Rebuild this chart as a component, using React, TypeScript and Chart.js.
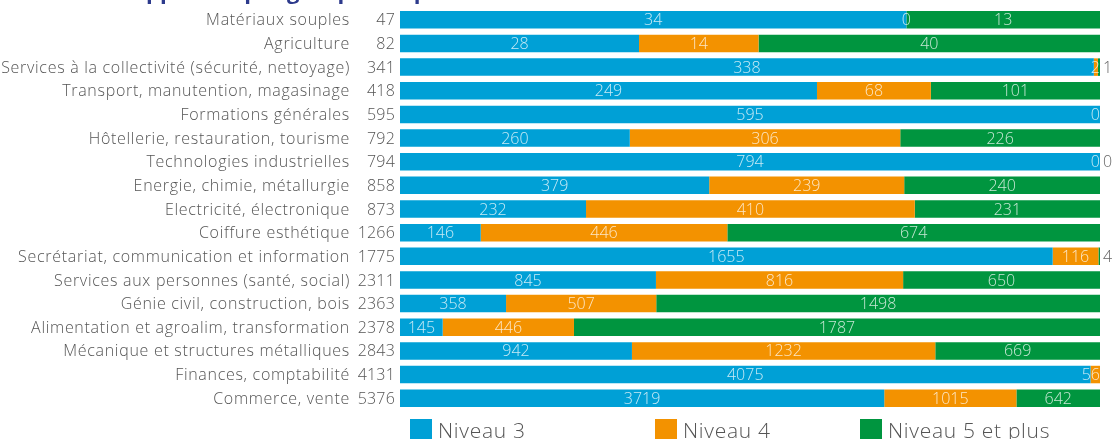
import React, { useEffect, useRef } from "react";
import { Chart, registerables } from "chart.js";

Chart.register(...registerables);

const categories = [
  "Matériaux souples",
  "Agriculture",
  "Services à la collectivité (sécurité, nettoyage)",
  "Transport, manutention, magasinage",
  "Formations générales",
  "Hôtellerie, restauration, tourisme",
  "Technologies industrielles",
  "Energie, chimie, métallurgie",
  "Electricité, électronique",
  "Coiffure esthétique",
  "Secrétariat, communication et information",
  "Services aux personnes (santé, social)",
  "Génie civil, construction, bois",
  "Alimentation et agroalim, transformation",
  "Mécanique et structures métalliques",
  "Finances, comptabilité",
  "Commerce, vente",
];

const totals = [47, 82, 341, 418, 595, 792, 794, 858, 873, 1266, 1775, 2311, 2363, 2378, 2843, 4131, 5376];

const niveau3 = [34, 28, 338, 249, 595, 260, 794, 379, 232, 146, 1655, 845, 358, 145, 942, 4075, 3719];
const niveau4 = [0, 14, 2, 68, 0, 306, 0, 239, 410, 446, 116, 816, 507, 446, 1232, 56, 1015];
const niveau5 = [13, 40, 1, 101, null, 226, 0, 240, 231, 674, 4, 650, 1498, 1787, 669, null, 642];

const seriesNames = ["Niveau 3", "Niveau 4", "Niveau 5 et plus"];
const seriesColors = ["#00A0D6", "#F39200", "#00953F"];
const titleText = "Nombre d'apprentis par groupe de spécialité selon le niveau";

const FONT = "'Open Sans', Lato, sans-serif";
const TEXT_GREY = "#555555";
const legendOffsets = [10, 255, 460];

const titlePlugin = {
  id: "cutTitle",
  beforeDraw(chart: any) {
    const ctx = chart.ctx;
    ctx.save();
    ctx.font = `bold 22px ${FONT}`;
    ctx.fillStyle = "#2D3A8C";
    ctx.textAlign = "left";
    ctx.textBaseline = "alphabetic";
    const lead = ctx.measureText("Nombre d'a").width;
    ctx.fillText(titleText, 146 - lead, -1);
    ctx.restore();
  },
};

const axisLabelsPlugin = {
  id: "axisLabels",
  afterDraw(chart: any) {
    const ctx = chart.ctx;
    const area = chart.chartArea;
    const yScale = chart.scales.y;
    ctx.save();
    ctx.fillStyle = TEXT_GREY;
    ctx.textAlign = "right";
    ctx.textBaseline = "middle";
    categories.forEach((c, i) => {
      const y = yScale.getPixelForValue(i) + 1;
      ctx.font = `300 16px ${FONT}`;
      (ctx as any).letterSpacing = "0.7px";
      ctx.fillText(c, area.left - 50, y);
      (ctx as any).letterSpacing = "0.2px";
      ctx.fillText(String(totals[i]), area.left - 5, y);
    });
    ctx.restore();
  },
};

const valueLabelsPlugin = {
  id: "valueLabels",
  afterDatasetsDraw(chart: any) {
    const ctx = chart.ctx;
    const area = chart.chartArea;
    const n = chart.data.datasets.length;
    ctx.save();
    ctx.font = `300 16px ${FONT}`;
    ctx.textBaseline = "middle";
    chart.data.datasets.forEach((ds: any, di: number) => {
      const meta = chart.getDatasetMeta(di);
      meta.data.forEach((bar: any, i: number) => {
        const raw = ds.counts[i];
        if (raw == null) return;
        const txt = String(raw);
        const w = ctx.measureText(txt).width;
        const { x, y, base } = bar.getProps(["x", "y", "base"], true);
        const segW = Math.abs(x - base);
        if (di === n - 1 && segW < w + 4) {
          ctx.fillStyle = "#666666";
          ctx.textAlign = "left";
          ctx.fillText(txt, x + 3, y + 1);
        } else {
          let cx = (x + base) / 2;
          cx = Math.max(area.left + w / 2, Math.min(area.right - w / 2, cx));
          ctx.fillStyle = "rgba(255,255,255,0.78)";
          ctx.textAlign = "center";
          ctx.fillText(txt, cx, y + 1);
        }
      });
    });
    ctx.restore();
  },
};

const legendPlugin = {
  id: "customLegend",
  afterDraw(chart: any) {
    const ctx = chart.ctx;
    const area = chart.chartArea;
    ctx.save();
    ctx.font = `300 21px ${FONT}`;
    (ctx as any).letterSpacing = "0.7px";
    ctx.textAlign = "left";
    ctx.textBaseline = "middle";
    seriesNames.forEach((name, i) => {
      const bx = area.left + legendOffsets[i];
      const by = area.bottom + 9;
      ctx.fillStyle = seriesColors[i];
      ctx.fillRect(bx, by, 22, 22);
      ctx.fillStyle = TEXT_GREY;
      ctx.fillText(name, bx + 28, by + 13);
    });
    ctx.restore();
  },
};

export default function App() {
  const canvasRef = useRef<HTMLCanvasElement | null>(null);

  useEffect(() => {
    document.body.style.margin = "0";
    const canvas = canvasRef.current;
    if (!canvas) return;
    const series = [niveau3, niveau4, niveau5];
    const datasets = series.map((vals, si) => ({
      label: seriesNames[si],
      counts: vals,
      data: vals.map((v, i) => (v == null ? null : (v / totals[i]) * 100)),
      backgroundColor: seriesColors[si],
      borderWidth: 0,
      barPercentage: 0.74,
      categoryPercentage: 1,
    }));
    const chart = new Chart(canvas, {
      type: "bar",
      data: { labels: categories, datasets: datasets as any },
      options: {
        indexAxis: "y",
        animation: false,
        responsive: false,
        devicePixelRatio: 1,
        layout: { padding: { top: 8, right: 13, bottom: 29, left: 0 } },
        plugins: {
          legend: { display: false },
          tooltip: { enabled: false },
          title: { display: false },
        },
        scales: {
          x: { stacked: true, min: 0, max: 100, display: false },
          y: {
            stacked: true,
            grid: { display: false },
            border: { display: false },
            ticks: { display: false },
            afterFit(scale: any) {
              scale.width = 400;
            },
          },
        },
      },
      plugins: [titlePlugin, axisLabelsPlugin, valueLabelsPlugin, legendPlugin],
    });
    return () => chart.destroy();
  }, []);

  return (
    <div style={{ width: 1113, height: 439, position: "relative" }}>
      <canvas ref={canvasRef} width={1113} height={439} style={{ display: "block" }} />
    </div>
  );
}
